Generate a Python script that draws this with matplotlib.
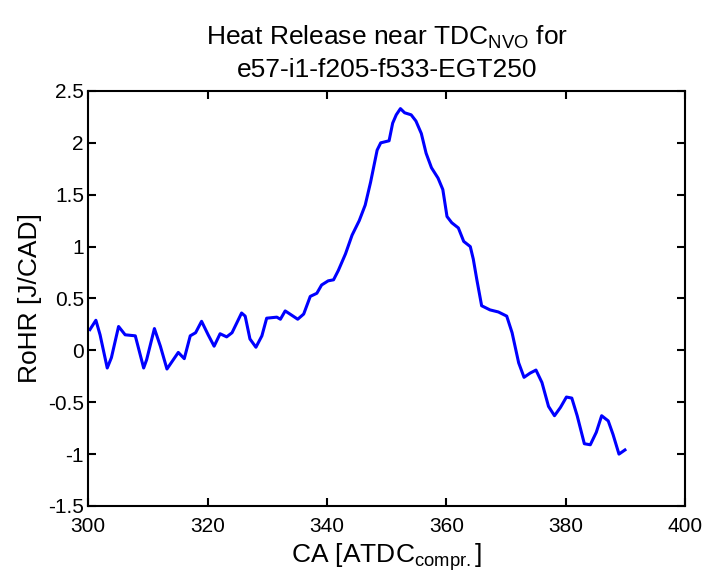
import numpy as np
import matplotlib.pyplot as plt

plt.rcParams['font.family'] = ['Liberation Sans Narrow', 'Liberation Sans', 'DejaVu Sans']
plt.rcParams['mathtext.fontset'] = 'custom'
plt.rcParams['mathtext.rm'] = 'Liberation Sans'
plt.rcParams['mathtext.it'] = 'Liberation Sans'

# crank angle [deg] and rate of heat release [J/CAD]
ca = [300.3, 301.3, 302.0, 303.2, 303.9, 305.1, 306.2, 307.9, 309.3, 309.8,
      311.1, 312.1, 313.2, 315.1, 316.1, 317.1, 318.0, 319.0, 320.1, 321.1,
      322.1, 323.2, 324.1, 325.7, 326.3, 327.1, 328.1, 329.1, 329.9, 331.6,
      332.2, 333.0, 333.8, 335.1, 336.1, 337.2, 338.3, 339.1, 340.2, 341.1,
      341.9, 343.1, 344.2, 345.4, 346.4, 347.3, 348.4, 349.0, 350.4, 351.0,
      351.6, 352.3, 353.0, 354.1, 354.9, 355.8, 356.6, 357.5, 358.6, 359.4,
      360.1, 360.9, 362.0, 362.9, 364.0, 364.5, 365.1, 365.9, 367.3, 368.7,
      370.1, 371.0, 372.1, 373.0, 374.0, 375.0, 376.0, 377.1, 378.1, 379.1,
      380.1, 381.0, 381.9, 383.1, 384.1, 385.1, 386.0, 387.1, 387.9, 388.9,
      389.9]
rohr = [0.20, 0.29, 0.15, -0.17, -0.07, 0.23, 0.15, 0.14, -0.17, -0.09,
        0.21, 0.04, -0.18, -0.02, -0.08, 0.14, 0.17, 0.28, 0.15, 0.04,
        0.16, 0.13, 0.17, 0.36, 0.33, 0.11, 0.03, 0.14, 0.31, 0.32,
        0.30, 0.38, 0.35, 0.30, 0.35, 0.52, 0.55, 0.63, 0.67, 0.68,
        0.77, 0.93, 1.11, 1.25, 1.40, 1.62, 1.93, 2.00, 2.02, 2.19,
        2.27, 2.33, 2.29, 2.27, 2.21, 2.09, 1.90, 1.76, 1.66, 1.55,
        1.29, 1.23, 1.18, 1.05, 1.00, 0.88, 0.68, 0.43, 0.39, 0.37,
        0.33, 0.17, -0.12, -0.26, -0.22, -0.19, -0.31, -0.54, -0.63, -0.55,
        -0.45, -0.46, -0.63, -0.90, -0.91, -0.79, -0.63, -0.68, -0.81, -1.00,
        -0.96]

fig = plt.figure(figsize=(7.05, 5.78), dpi=100)
ax = fig.add_axes([0.125, 0.1246, 0.847, 0.718])
ax.plot(ca, rohr, color='#0000ff', linewidth=2.2)

ax.set_xlim(300, 400)
ax.set_ylim(-1.5, 2.5)
ax.set_xticks(np.arange(300, 401, 20))
ax.set_yticks(np.arange(-1.5, 2.51, 0.5))
ax.set_yticklabels(['-1.5', '-1', '-0.5', '0', '0.5', '1', '1.5', '2', '2.5'])
ax.tick_params(direction='in', length=6, width=1.5, labelsize=15,
               top=True, right=True, pad=3)
ax.tick_params(axis='x', pad=8)
for s in ax.spines.values():
    s.set_linewidth(1.5)

ax.set_title('Heat Release near TDC$_{\\mathrm{NVO}}$ for\ne57-i1-f205-f533-EGT250',
             fontsize=19, pad=10, linespacing=1.35)
ax.set_xlabel('CA [ATDC$_{\\mathrm{compr.}}$]', fontsize=19, labelpad=4)
ax.set_ylabel('RoHR [J/CAD]', fontsize=19, labelpad=4)

fig.savefig('out.png', dpi=100)
